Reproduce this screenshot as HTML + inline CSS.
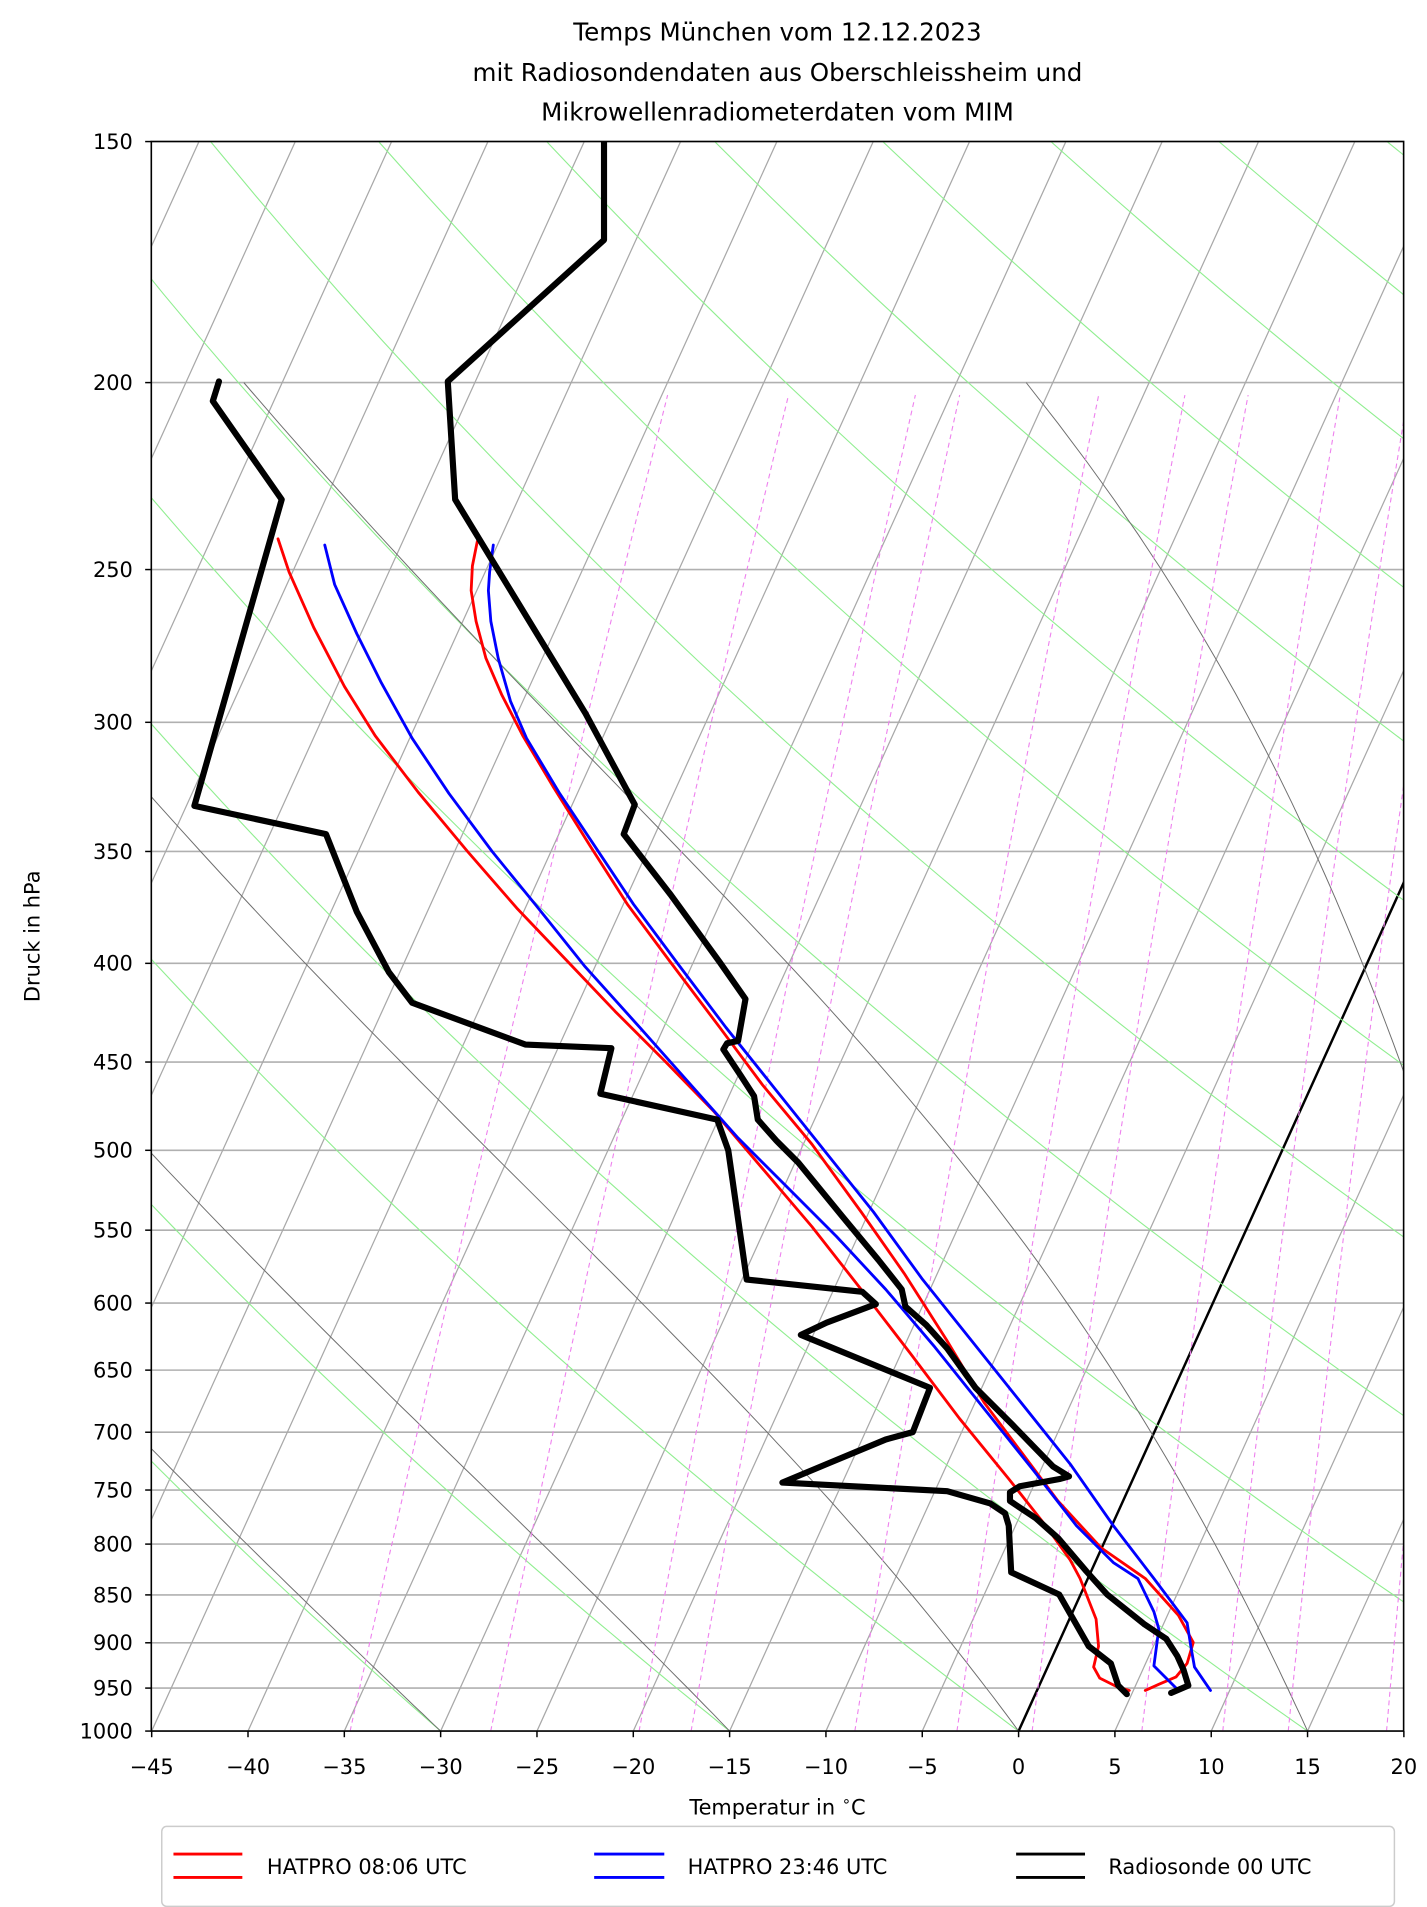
<!DOCTYPE html>
<html><head><meta charset="utf-8"><style>
html,body{margin:0;padding:0;background:#fff;}
svg{display:block;}
text{font-family:"DejaVu Sans","Liberation Sans",sans-serif;fill:#000;}
</style></head><body>
<svg id="s" width="1427" height="1907" viewBox="0 0 1160 1550" preserveAspectRatio="none" xmlns="http://www.w3.org/2000/svg">
<defs><clipPath id="c"><rect x="123" y="115" width="1018" height="1292"/></clipPath></defs>
<rect x="0" y="0" width="1160" height="1550" fill="#fff"/>
<g id="bg" clip-path="url(#c)"></g>
<g id="data" clip-path="url(#c)" fill="none" stroke-linejoin="round" stroke-linecap="round">
<polyline stroke="#f00" stroke-width="2.3" points="226,438 235,465 255,510 280,558 305,598 340,644 380,692 420,738 460,780 500,822 540,862 580,903 620,950 660,997 700,1048 740,1100 780,1153 820,1202 850,1240 870,1268 878,1283 891,1316 893,1338 889,1355 894,1364 908,1371 918,1374"/>
<polyline stroke="#f00" stroke-width="2.3" points="388,440 384,460 383,480 387,505 395,535 408,565 425,598 450,640 480,688 510,735 545,782 585,835 620,882 660,930 700,985 735,1035 770,1090 800,1140 830,1180 860,1220 895,1258 931,1283 958,1313 970,1335 965,1352 956,1363 942,1369 931,1374"/>
<polyline stroke="#00f" stroke-width="2.3" points="264,443 272,475 290,515 310,555 335,600 365,645 400,692 435,735 475,785 520,835 560,880 600,925 640,965 680,1005 720,1048 760,1095 800,1145 840,1195 875,1240 905,1270 925,1283 938,1310 942,1324 938,1354 951,1367 958,1374"/>
<polyline stroke="#00f" stroke-width="2.3" points="401,443 398,465 397,480 399,505 405,535 415,570 428,600 455,645 485,690 515,735 550,782 590,835 630,885 670,935 710,985 750,1040 790,1090 830,1140 870,1190 905,1240 938,1283 965,1319 968,1338 971,1355 984,1374"/>
<polyline stroke="#000" stroke-width="5" points="491,115 491,195 364,310 370,406 476,580 516,654 507,678 545,727 585,782 606,812 600,846 591,848 588,853 602,874 613,891 616,910 631,927 649,945 685,989 714,1024 733,1048 736,1062 753,1077 770,1096 793,1128 823,1158 856,1192 869,1200 862,1202 829,1208 821,1213 821,1220 842,1234 860,1250 883,1277 900,1296 930,1320 948,1332 957,1346 962,1357 966,1370 952,1376"/>
<polyline stroke="#000" stroke-width="5" points="178,310 173,326 229,406 158,655 265,678 290,741 316,790 335,815 427,849 497,852 488,889 583,910 592,935 607,1040 701,1050 712,1060 672,1075 651,1085 756,1128 742,1164 720,1170 672,1190 636,1205 770,1212 805,1222 817,1230 820,1240 822,1278 861,1296 885,1338 903,1352 909,1370 916,1377"/>
</g>
<g id="ax"></g>
<text x="632" y="33" font-size="20" text-anchor="middle">Temps München vom 12.12.2023</text>
<text x="632" y="66" font-size="20" text-anchor="middle">mit Radiosondendaten aus Oberschleissheim und</text>
<text x="632" y="98" font-size="20" text-anchor="middle">Mikrowellenradiometerdaten vom MIM</text>
<text x="632" y="1475" font-size="17" text-anchor="middle">Temperatur in <tspan dy="-7" font-size="12">∘</tspan><tspan dy="7">C</tspan></text>
<text transform="translate(32,761) rotate(-90)" font-size="17" text-anchor="middle">Druck in hPa</text>
<rect x="131.5" y="1484.5" width="1002" height="65" rx="4" fill="#fff" stroke="#ccc" stroke-width="1.2"/>
<line x1="141" y1="1507" x2="197" y2="1507" stroke="#f00" stroke-width="2.3"/>
<line x1="141" y1="1526" x2="197" y2="1526" stroke="#f00" stroke-width="2.3"/>
<text x="217" y="1523" font-size="17">HATPRO 08:06 UTC</text>
<line x1="483" y1="1507" x2="540" y2="1507" stroke="#00f" stroke-width="2.3"/>
<line x1="483" y1="1526" x2="540" y2="1526" stroke="#00f" stroke-width="2.3"/>
<text x="559" y="1523" font-size="17">HATPRO 23:46 UTC</text>
<line x1="826" y1="1507" x2="882" y2="1507" stroke="#000" stroke-width="2.3"/>
<line x1="826" y1="1526" x2="882" y2="1526" stroke="#000" stroke-width="2.3"/>
<text x="901" y="1523" font-size="17">Radiosonde 00 UTC</text>
</svg>
<script>
(function(){
var NS="http://www.w3.org/2000/svg";
function Y(p){return 1407-681.0*Math.log(1000/p);}
function X(T,p){return 828+15.66*T+0.454*(1407-Y(p));}
var bg=document.getElementById('bg'),ax=document.getElementById('ax');
function el(par,tag,at){var e=document.createElementNS(NS,tag);for(var k in at)e.setAttribute(k,at[k]);par.appendChild(e);return e;}
var ps=[150,200,250,300,350,400,450,500,550,600,650,700,750,800,850,900,950,1000];
ps.forEach(function(p){var y=Y(p);el(bg,'line',{x1:123,x2:1141,y1:y,y2:y,stroke:'#b0b0b0','stroke-width':1.3});});
for(var T=-120;T<=20;T+=5){
  el(bg,'line',{x1:X(T,1000),y1:Y(1000),x2:X(T,150),y2:Y(150),stroke:(T==0?'#000':'#a8a8a8'),'stroke-width':(T==0?2:1)});
}
for(var th=-90;th<=250;th+=15){
  var pts=[];for(var p=1000;p>=150;p-=10){var Tk=(th+273.15)*Math.pow(p/1000,0.2857);pts.push(X(Tk-273.15,p).toFixed(1)+','+Y(p).toFixed(1));}
  el(bg,'polyline',{points:pts.join(' '),fill:'none',stroke:'#90ee90','stroke-width':0.9});
}
function es(Tc){return 6.112*Math.exp(17.67*Tc/(Tc+243.5));}
for(var t0=-90;t0<=45;t0+=15){
  var Tk=t0+273.15,pts=[],p=1000,dp=-2;
  while(p>=200){
    pts.push(X(Tk-273.15,p).toFixed(1)+','+Y(p).toFixed(1));
    for(var i=0;i<5;i++){
      var e=es(Tk-273.15),rs=0.622*e/(p-e),Lv=2.501e6,Rd=287.04,cp=1005.7;
      var dTdp=(1/p)*(Rd*Tk+Lv*rs)/(cp+(Lv*Lv*rs*0.622)/(Rd*Tk*Tk));
      Tk+=dTdp*dp;p+=dp;
    }
  }
  el(bg,'polyline',{points:pts.join(' '),fill:'none',stroke:'#6e6e6e','stroke-width':0.8});
}
[-34.7,-27.4,-19.7,-17.0,-8.5,-3.2,0.7,6.4,10.6,14.0,19.1].forEach(function(td0){
  var e0=es(td0),pts=[];
  var plist=[];for(var p=1000;p>=210;p-=10)plist.push(p);plist.push(203);
  plist.forEach(function(p){var e=e0*p/1000,L=Math.log(e/6.112),td=243.5*L/(17.67-L);pts.push(X(td,p).toFixed(1)+','+Y(p).toFixed(1));});
  el(bg,'polyline',{points:pts.join(' '),fill:'none',stroke:'#ee82ee','stroke-width':0.9,'stroke-dasharray':'4,3'});
});
el(ax,'rect',{x:123,y:115,width:1018,height:1292,fill:'none',stroke:'#000','stroke-width':1.3});
ps.forEach(function(p){var y=Y(p);el(ax,'line',{x1:118,x2:123,y1:y,y2:y,stroke:'#000','stroke-width':1.2});
  var t=el(ax,'text',{x:108,y:y+6,'font-size':17,'text-anchor':'end'});t.textContent=p;});
for(var T=-45;T<=20;T+=5){var x=828+15.66*T;el(ax,'line',{x1:x,x2:x,y1:1407,y2:1412,stroke:'#000','stroke-width':1.2});
  var t=el(ax,'text',{x:x,y:1442,'font-size':17,'text-anchor':'middle'});t.textContent=(T<0?'\u2212'+(-T):T);}
})();
</script>
</body></html>
